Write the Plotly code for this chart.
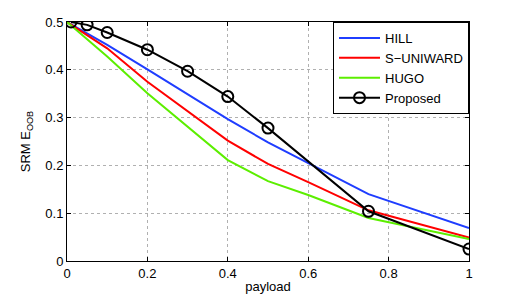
import plotly.graph_objects as go

payload = [0, 0.1, 0.2, 0.3, 0.4, 0.5, 0.6, 0.75, 1.0]
hill = [0.5, 0.452, 0.401, 0.349, 0.297, 0.248, 0.205, 0.140, 0.069]
suniward = [0.5, 0.445, 0.375, 0.314, 0.252, 0.203, 0.165, 0.106, 0.049]
hugo = [0.5, 0.428, 0.351, 0.281, 0.211, 0.167, 0.138, 0.090, 0.046]

prop_x = [0.01, 0.05, 0.1, 0.2, 0.3, 0.4, 0.5, 0.75, 1.0]
prop_y = [0.5, 0.494, 0.478, 0.442, 0.397, 0.344, 0.278, 0.104, 0.025]

x_ticks = [0, 0.2, 0.4, 0.6, 0.8, 1]
x_labels = ["0", "0.2", "0.4", "0.6", "0.8", "1"]
y_ticks = [0, 0.1, 0.2, 0.3, 0.4, 0.5]
y_labels = ["0", "0.1", "0.2", "0.3", "0.4", "0.5"]

fig = go.Figure()
fig.add_trace(go.Scatter(x=payload, y=hill, mode="lines", name="HILL",
                         line=dict(color="#1f3dff", width=2)))
fig.add_trace(go.Scatter(x=payload, y=suniward, mode="lines", name="S\u2212UNIWARD",
                         line=dict(color="#ff0000", width=2)))
fig.add_trace(go.Scatter(x=payload, y=hugo, mode="lines", name="HUGO",
                         line=dict(color="#5cee00", width=2)))
fig.add_trace(go.Scatter(x=prop_x, y=prop_y, mode="lines+markers", name="Proposed",
                         line=dict(color="#000000", width=2),
                         marker=dict(symbol="circle-open", size=11, color="#000000",
                                     line=dict(width=2, color="#000000"))))

axis_common = dict(
    showline=True, linecolor="#000000", linewidth=1, mirror="ticks",
    ticks="inside", ticklen=4, tickcolor="#000000",
    showgrid=True, gridcolor="#b0b0b0", griddash="dot", gridwidth=1,
    zeroline=False, automargin=False,
    tickfont=dict(family="Liberation Sans, Arial, sans-serif", size=13, color="#000000"),
)

# page body has an 8px default margin, so the figure is sized/offset to compensate
fig.update_layout(
    width=510, height=290,
    margin=dict(l=59, r=49, t=14, b=37, autoexpand=False),
    paper_bgcolor="#ffffff", plot_bgcolor="#ffffff",
    font=dict(family="Liberation Sans, Arial, sans-serif", size=12, color="#000000"),
    showlegend=True,
    legend=dict(x=1, xanchor="right", y=1, yanchor="top",
                bordercolor="#000000", borderwidth=1, bgcolor="#ffffff",
                font=dict(size=13), tracegroupgap=0, itemwidth=41),
    xaxis=dict(range=[0, 1], tickvals=x_ticks, ticktext=x_labels,
               title=dict(text="payload", standoff=2, font=dict(size=13)),
               **axis_common),
    yaxis=dict(range=[0, 0.5], tickvals=y_ticks, ticktext=y_labels,
               title=dict(text="SRM E<sub>OOB</sub>", standoff=11, font=dict(size=13)),
               **axis_common),
)

fig.write_html("out.html")
